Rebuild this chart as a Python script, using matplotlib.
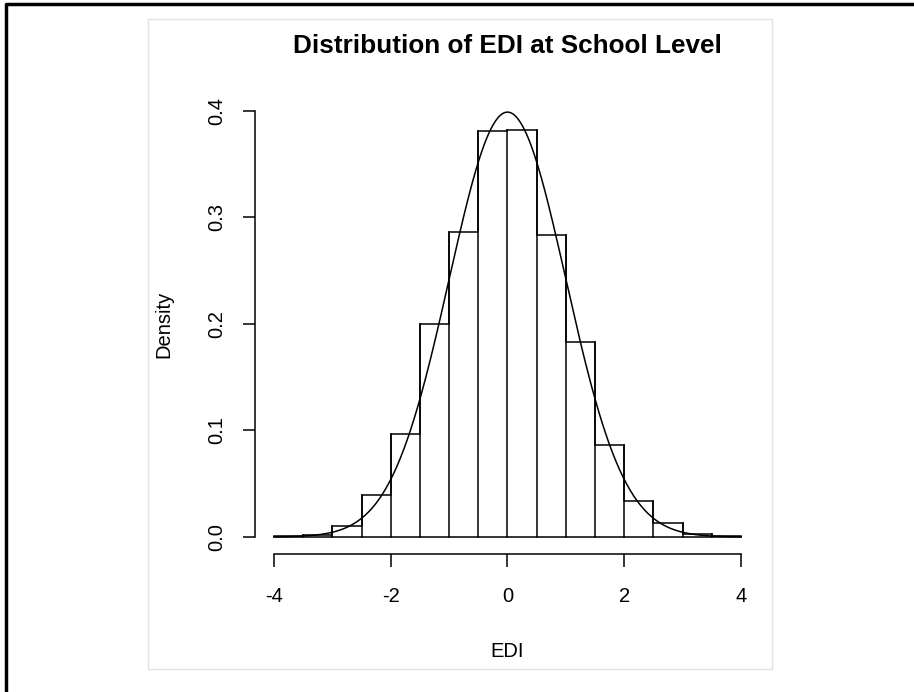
import numpy as np
import matplotlib.pyplot as plt
from matplotlib.lines import Line2D
from matplotlib.patches import Rectangle

plt.rcParams['font.family'] = ['Liberation Sans', 'DejaVu Sans']

# Histogram of EDI (density), bins of width 0.5
bin_edges = [-4.0, -3.5, -3.0, -2.5, -2.0, -1.5, -1.0, -0.5, 0.0,
             0.5, 1.0, 1.5, 2.0, 2.5, 3.0, 3.5, 4.0]
densities = [0.0005, 0.002, 0.010, 0.039, 0.097, 0.200, 0.286, 0.381,
             0.382, 0.284, 0.183, 0.086, 0.034, 0.013, 0.003, 0.0005]
x_ticks = [-4, -2, 0, 2, 4]
y_ticks = [0.0, 0.1, 0.2, 0.3, 0.4]

fig = plt.figure(figsize=(9.14, 6.92), dpi=100)

# black frame on top and left only, light grey inner frame
fig.lines.append(Line2D([5.5/914, 5.5/914, 1], [0, 1-3.5/692, 1-3.5/692],
                        transform=fig.transFigure, color='black', linewidth=2.5))
fig.patches.append(Rectangle((148/914, 1-669/692), (772-148)/914, (669-19)/692,
                             transform=fig.transFigure, fill=False,
                             edgecolor='#e2e2e2', linewidth=1.0))

ax = fig.add_axes([0.2793, 0.1994, 0.8312-0.2793, 0.8627-0.1994])
lw = 1.1
ax.stairs(densities, bin_edges, fill=False, edgecolor='black', linewidth=lw, baseline=0)
for e, d_l, d_r in zip(bin_edges[1:-1], densities[:-1], densities[1:]):
    ax.plot([e, e], [0, max(d_l, d_r)], color='black', linewidth=lw)
ax.plot([bin_edges[0], bin_edges[-1]], [0, 0], color='black', linewidth=lw)

# standard normal density curve
xs = np.linspace(-4, 4, 401)
ax.plot(xs, np.exp(-xs**2 / 2) / np.sqrt(2 * np.pi), color='black', linewidth=lw)

ax.set_xlim(-4.32, 4.32)
ax.set_ylim(-0.016, 0.415)
for s in ['top', 'right']:
    ax.spines[s].set_visible(False)
ax.spines['bottom'].set_bounds(-4, 4)
ax.spines['left'].set_bounds(0, 0.4)
ax.spines['bottom'].set_linewidth(lw)
ax.spines['left'].set_linewidth(lw)
ax.set_xticks(x_ticks)
ax.set_xticklabels([str(v) for v in x_ticks])
ax.set_yticks(y_ticks)
ax.set_yticklabels([f'{v:.1f}' for v in y_ticks], rotation=90, va='center')
ax.tick_params(axis='x', length=9, width=lw, labelsize=14.5, pad=15)
ax.tick_params(axis='y', length=9, width=lw, labelsize=14.5, pad=12)
ax.set_xlabel('EDI', fontsize=14.5, labelpad=26)
ax.set_ylabel('Density', fontsize=14.5, labelpad=24)
ax.set_title('Distribution of EDI at School Level', fontsize=18.8, fontweight='bold', pad=30)

fig.savefig('out.png', dpi=100)
